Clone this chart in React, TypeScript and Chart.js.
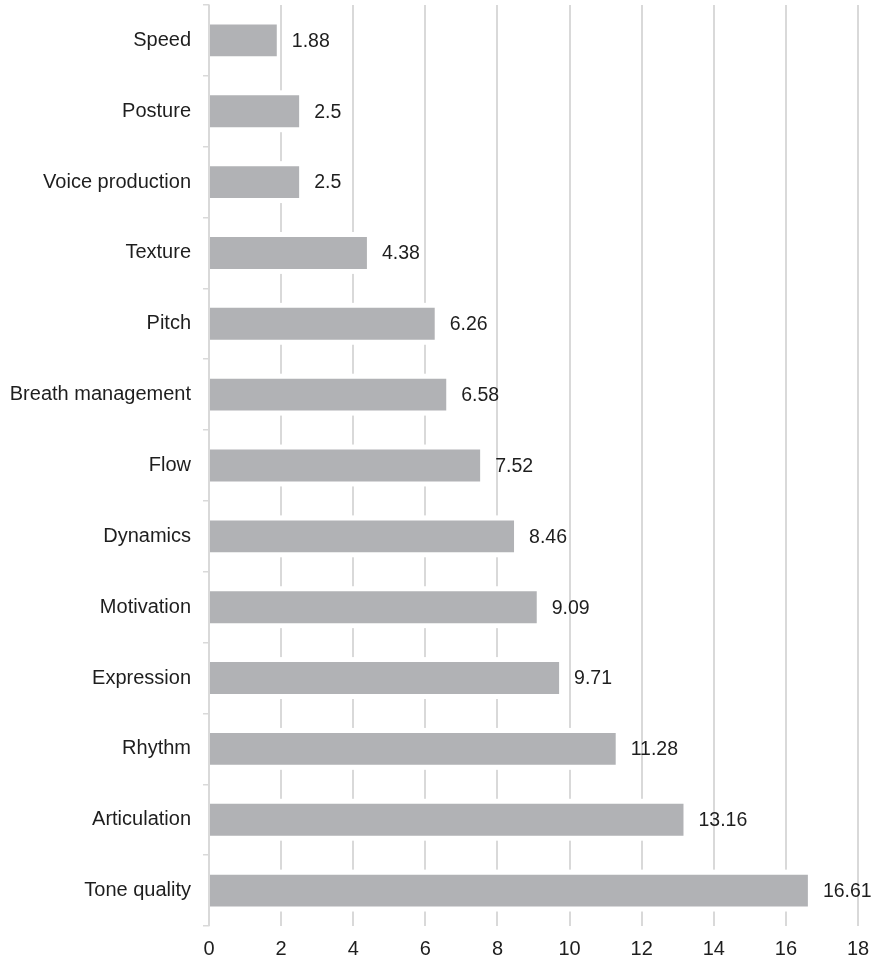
import React, { useEffect, useRef } from "react";
import { Chart, registerables } from "chart.js";

Chart.register(...registerables);

const categories = [
  "Speed",
  "Posture",
  "Voice production",
  "Texture",
  "Pitch",
  "Breath management",
  "Flow",
  "Dynamics",
  "Motivation",
  "Expression",
  "Rhythm",
  "Articulation",
  "Tone quality",
];
const values = [1.88, 2.5, 2.5, 4.38, 6.26, 6.58, 7.52, 8.46, 9.09, 9.71, 11.28, 13.16, 16.61];
const valueLabels = ["1.88", "2.5", "2.5", "4.38", "6.26", "6.58", "7.52", "8.46", "9.09", "9.71", "11.28", "13.16", "16.61"];
const xMin = 0;
const xMax = 18;
const xStep = 2;

const FONT = "'Liberation Sans', Arial, Helvetica, sans-serif";
const TEXT = "#1e1e1e";
const GRID = "#d9d9d9";
const BAR = "#b1b2b5";

const bandPlugin = {
  id: "bands",
  beforeDatasetsDraw(chart: any) {
    const ctx = chart.ctx;
    const meta = chart.getDatasetMeta(0);
    ctx.save();
    ctx.fillStyle = "#ffffff";
    meta.data.forEach((bar: any) => {
      const p = bar.getProps(["x", "y", "base", "height"], true);
      const left = Math.min(p.base, p.x) + 1;
      const right = Math.max(p.base, p.x);
      ctx.fillRect(left, p.y - p.height / 2 - 5, right - left, p.height + 10);
    });
    ctx.restore();
  },
  afterDatasetsDraw(chart: any) {
    const ctx = chart.ctx;
    const meta = chart.getDatasetMeta(0);
    ctx.save();
    ctx.fillStyle = TEXT;
    ctx.font = `19.5px ${FONT}`;
    ctx.textAlign = "left";
    ctx.textBaseline = "middle";
    meta.data.forEach((bar: any, i: number) => {
      const p = bar.getProps(["x", "y"], true);
      ctx.fillText(valueLabels[i], p.x + 15, p.y + 1);
    });
    ctx.restore();
  },
};

export default function App() {
  const ref = useRef<HTMLCanvasElement>(null);
  useEffect(() => {
    if (!ref.current) return;
    const chart = new Chart(ref.current, {
      type: "bar",
      data: {
        labels: categories,
        datasets: [
          {
            data: values,
            backgroundColor: BAR,
            borderWidth: 0,
            barPercentage: 0.45,
            categoryPercentage: 1,
          },
        ],
      },
      plugins: [bandPlugin],
      options: {
        indexAxis: "y",
        animation: false,
        responsive: false,
        maintainAspectRatio: false,
        layout: { padding: { top: 5, right: 16, left: 0, bottom: 0 } },
        plugins: {
          legend: { display: false },
          tooltip: { enabled: false },
        },
        scales: {
          x: {
            min: xMin,
            max: xMax,
            ticks: {
              stepSize: xStep,
              color: TEXT,
              font: { family: FONT, size: 20 },
              padding: 11,
            },
            grid: {
              color: GRID,
              lineWidth: 2,
              drawTicks: false,
            },
            border: { display: false },
            afterFit(scale: any) {
              scale.height = 35;
              scale.paddingLeft = 0;
              scale.paddingRight = 0;
            },
          },
          y: {
            ticks: {
              color: TEXT,
              font: { family: FONT, size: 20 },
              padding: 12,
            },
            grid: {
              drawOnChartArea: false,
              drawTicks: true,
              tickLength: 6,
              color: GRID,
              lineWidth: 1.5,
            },
            border: { display: true, color: GRID, width: 1.5 },
            afterFit(scale: any) {
              scale.width = 209;
              scale.paddingTop = 0;
              scale.paddingBottom = 0;
            },
          },
        },
      },
    });
    return () => chart.destroy();
  }, []);
  return (
    <div style={{ position: "absolute", left: 0, top: 0, width: 874, height: 961, background: "#fff" }}>
      <canvas ref={ref} width={874} height={961} style={{ display: "block" }} />
    </div>
  );
}
